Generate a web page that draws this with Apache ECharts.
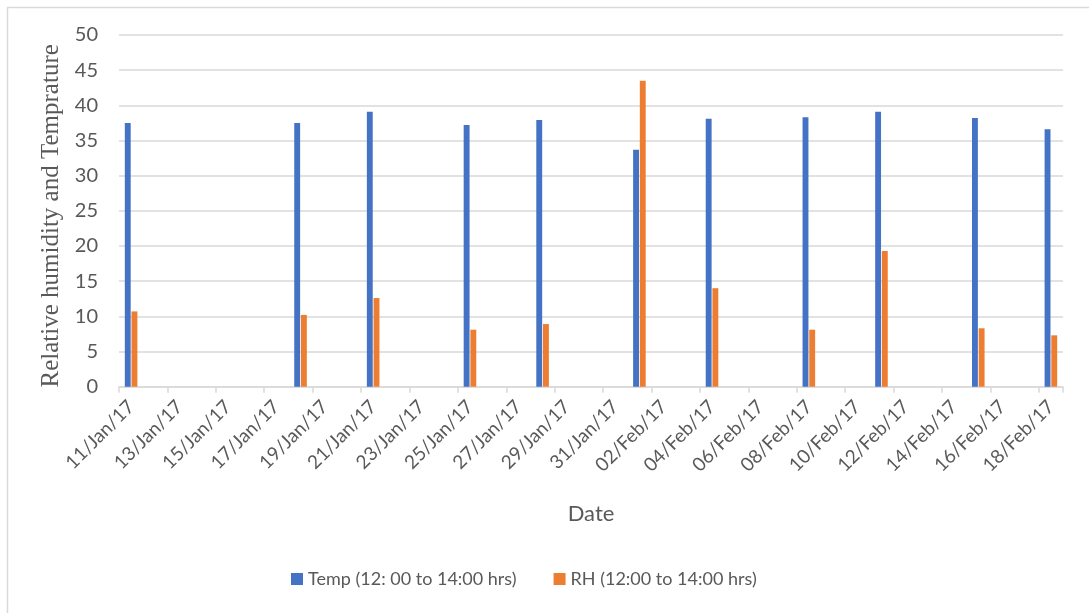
<!DOCTYPE html>
<html>
<head>
<meta charset="utf-8">
<script src="https://cdn.jsdelivr.net/npm/echarts@6/dist/echarts.min.js"></script>
<style>
  html, body { margin: 0; padding: 0; background: #ffffff; }
  #chart { width: 1089px; height: 613px; }
</style>
</head>
<body>
<div id="chart"></div>
<script>
// Category axis: every day from 11 Jan 2017 to 18 Feb 2017
const categories = [
  '11/Jan/17','12/Jan/17','13/Jan/17','14/Jan/17','15/Jan/17','16/Jan/17','17/Jan/17',
  '18/Jan/17','19/Jan/17','20/Jan/17','21/Jan/17','22/Jan/17','23/Jan/17','24/Jan/17',
  '25/Jan/17','26/Jan/17','27/Jan/17','28/Jan/17','29/Jan/17','30/Jan/17','31/Jan/17',
  '01/Feb/17','02/Feb/17','03/Feb/17','04/Feb/17','05/Feb/17','06/Feb/17','07/Feb/17',
  '08/Feb/17','09/Feb/17','10/Feb/17','11/Feb/17','12/Feb/17','13/Feb/17','14/Feb/17',
  '15/Feb/17','16/Feb/17','17/Feb/17','18/Feb/17'
];

// Observation dates and values
const obsDates = ['11/Jan/17','18/Jan/17','21/Jan/17','25/Jan/17','28/Jan/17',
                  '01/Feb/17','04/Feb/17','08/Feb/17','11/Feb/17','15/Feb/17','18/Feb/17'];
const tempValues = [37.5, 37.5, 39.1, 37.2, 37.9, 33.7, 38.1, 38.3, 39.1, 38.2, 36.6];
const rhValues   = [10.7, 10.2, 12.6, 8.1, 8.9, 43.5, 14.0, 8.1, 19.3, 8.3, 7.3];

const seriesNames = ['Temp (12: 00 to 14:00 hrs)', 'RH (12:00 to 14:00 hrs)'];
const yTitle = 'Relative humidity and Temprature';
const xTitle = 'Date';

const textColor = '#595959';
const gridColor = '#d9d9d9';
const sans = 'Lato, "Open Sans", sans-serif';

const tempData = obsDates.map((d, i) => [d, tempValues[i]]);
const rhData = obsDates.map((d, i) => [d, rhValues[i]]);

const chart = echarts.init(document.getElementById('chart'), null, { renderer: 'canvas' });
chart.setOption({
  animation: false,
  backgroundColor: '#ffffff',
  graphic: [{
    type: 'rect',
    shape: { x: 7.5, y: 7.5, width: 1200, height: 800 },
    style: { fill: 'none', stroke: gridColor, lineWidth: 1.5 },
    silent: true
  }],
  grid: { left: 119, right: 26, top: 35, height: 351.67 },
  legend: {
    bottom: 20,
    left: 286,
    itemWidth: 12,
    itemHeight: 12,
    itemGap: 37,
    icon: 'rect',
    textStyle: { color: textColor, fontSize: 18, fontFamily: sans },
    data: seriesNames
  },
  xAxis: {
    type: 'category',
    data: categories,
    boundaryGap: true,
    name: xTitle,
    nameLocation: 'middle',
    nameGap: 116,
    nameTextStyle: { color: textColor, fontSize: 22, fontFamily: sans },
    axisLine: { lineStyle: { color: gridColor, width: 1.5 } },
    axisTick: { show: true, interval: 1, length: 6, lineStyle: { color: gridColor, width: 1.5 } },
    axisLabel: {
      interval: 1,
      rotate: 45,
      margin: 17,
      color: textColor,
      fontSize: 19,
      fontFamily: sans
    },
    splitLine: { show: false }
  },
  yAxis: {
    type: 'value',
    min: 0,
    max: 50,
    interval: 5,
    name: yTitle,
    nameLocation: 'middle',
    nameGap: 52,
    nameRotate: 90,
    nameTextStyle: {
      color: textColor,
      fontSize: 25,
      fontFamily: '"Liberation Serif", "DejaVu Serif", serif',
      padding: [0, 10, 0, 0]
    },
    axisLine: { show: false },
    axisTick: { show: false },
    axisLabel: { color: textColor, fontSize: 20, fontFamily: sans, margin: 21 },
    splitLine: { lineStyle: { color: gridColor, width: 1.5 } }
  },
  series: [
    {
      name: seriesNames[0],
      type: 'bar',
      data: tempData,
      barGap: '14%',
      barCategoryGap: '48%',
      itemStyle: { color: '#4472C4' }
    },
    {
      name: seriesNames[1],
      type: 'bar',
      data: rhData,
      barGap: '14%',
      barCategoryGap: '48%',
      itemStyle: { color: '#ED7D31' }
    }
  ]
});
</script>
</body>
</html>
